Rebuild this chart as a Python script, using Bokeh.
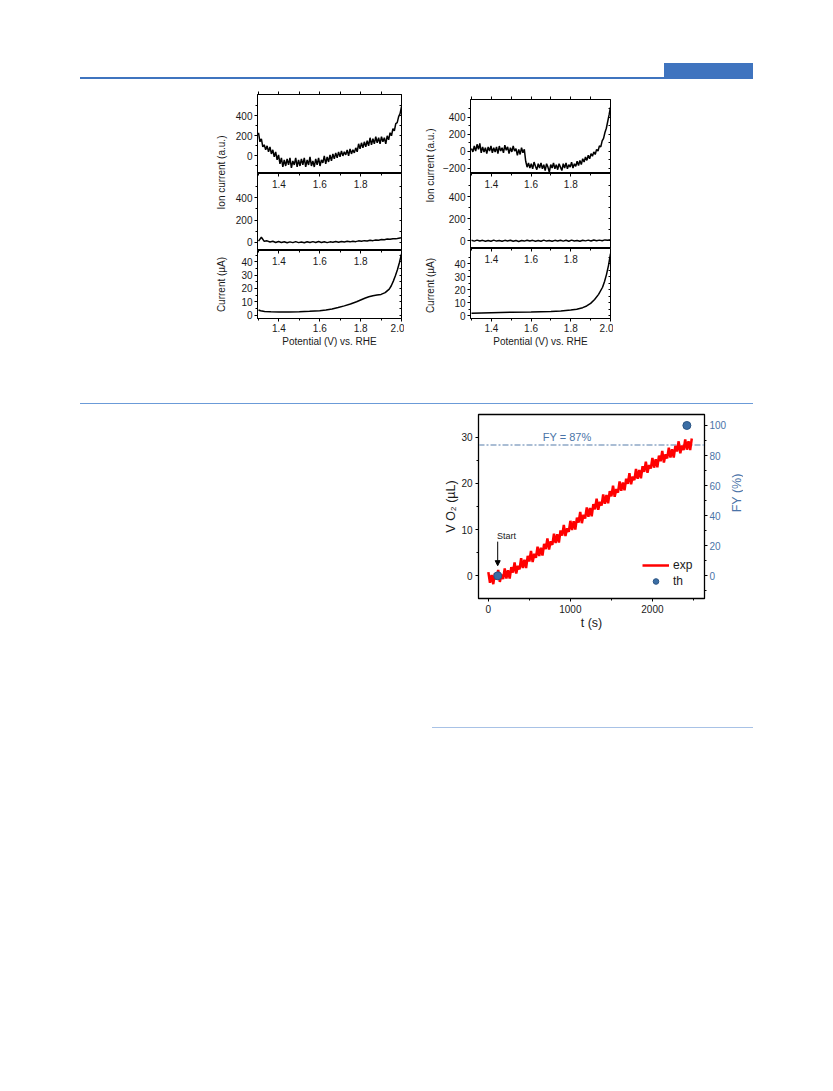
import numpy as np
from bokeh.plotting import figure
from bokeh.models import (Range1d, LinearAxis, FixedTicker, SingleIntervalTicker, Label, Span,
                          Arrow, NormalHead, Legend, LegendItem, Div, Spacer, PrintfTickFormatter)
from bokeh.layouts import column, row
from bokeh.embed import file_html
from bokeh.resources import INLINE

FONT = "Liberation Sans"

# ---------------- data ----------------
POT_RANGE = (1.295, 2.0)
pot_ticks = [1.4, 1.6, 1.8, 2.0]
pot_inner_ticks = [1.4, 1.6, 1.8]
pot_minor = [1.3, 1.5, 1.7, 1.9]

# left column (sample 1)
ion_top_left = [230, 140, 170, 90, 110, 60, 100, 40, 90, 20, 60, -10, 40, -40, 10, -80, -20, -110, -40, -100,
                -30, -90, -20, -120, -50, -90, -20, -110, -40, -100, -30, -90, -20, -110, -40, -90, -10, -100, -50, -110,
                -30, -90, -20, -100, -40, -70, 0, -80, -10, -60, 10, -50, 20, -30, 30, -20, 40, -10, 50, 0,
                40, 10, 60, 0, 70, 20, 60, 30, 80, 40, 120, 70, 130, 80, 140, 90, 150, 100, 180, 110,
                170, 120, 190, 130, 180, 120, 190, 140, 180, 120, 200, 160, 230, 200, 270, 250, 320, 330, 390, 420, 490]
ion_mid_left = [10, 45, 8, 12, 2, 8, -3, 6, -2, 4, -5, 3, -4, 5, -4, 2, -5, 4, -3, 5, -3, 6, -2, 4, -4, 3,
                0, 6, -1, 7, 2, 8, 3, 9, 5, 12, 8, 14, 11, 17, 14, 20, 18, 24, 22, 28, 26, 32, 30, 36, 40]
cur_left_x = [1.30, 1.31, 1.33, 1.36, 1.40, 1.45, 1.50, 1.55, 1.60, 1.63, 1.66, 1.69, 1.72, 1.75, 1.78,
              1.80, 1.82, 1.84, 1.86, 1.88, 1.90, 1.92, 1.94, 1.95, 1.96, 1.97, 1.98, 1.99, 2.00]
cur_left_y = [3.8, 3.2, 2.7, 2.4, 2.3, 2.3, 2.5, 2.8, 3.3, 3.8, 4.6, 5.6, 6.9, 8.3, 10.0,
              11.3, 12.6, 13.7, 14.5, 15.0, 15.5, 16.8, 19.5, 22.0, 25.5, 29.5, 34.0, 39.5, 46.0]

# right column (sample 2)
ion_top_right = [30, -10, 60, 0, 80, 20, 90, -20, 50, -10, 40, -30, 50, 0, 60, -20, 40, -10, 50, -30,
                 60, 0, 40, -20, 70, 10, 50, -30, 40, -10, 60, 0, 30, -50, 20, -40, 40, -20, 20, -120,
                 -190, -140, -200, -150, -210, -130, -180, -220, -150, -200, -140, -210, -160, -230, -150, -190, -250, -160, -200, -140,
                 -210, -160, -220, -150, -190, -230, -150, -200, -140, -210, -160, -190, -130, -200, -150, -180, -120, -170, -110, -160,
                 -90, -130, -70, -110, -50, -90, -30, -60, -10, -40, 20, 0, 60, 50, 120, 150, 220, 270, 350, 430, 520]
ion_mid_right = [5, -3, 6, -2, 4, -5, 3, -4, 6, -3, 2, -5, 4, -2, 5, -4, 3, -6, 2, -3, 5, -2, 4, -5, 3, -4,
                 6, -3, 2, -5, 4, -2, 5, -3, 4, -4, 6, -2, 3, -4, 5, -1, 6, -2, 7, 0, 6, 1, 8, 4, 10]
cur_right_x = [1.30, 1.35, 1.40, 1.50, 1.60, 1.70, 1.75, 1.80, 1.83, 1.86, 1.88, 1.90, 1.92, 1.94,
               1.96, 1.97, 1.98, 1.99, 2.00]
cur_right_y = [1.9, 2.1, 2.3, 2.6, 2.9, 3.3, 3.7, 4.3, 5.0, 6.2, 7.5, 9.5, 12.5, 16.5,
               22.0, 26.5, 32.0, 39.0, 48.0]

# O2 volume vs time
o2_t = list(range(0, 2500, 20))
o2_v = [0.8, -1.5, 0.2, -1.8, 0.6, -0.8, 1.3, -1.3, 0.3, -0.7,
        1.6, -0.6, 1.2, -0.6, 1.9, 0.7, 2.9, 0.5, 2.2, 1.4,
        3.8, 1.7, 3.5, 1.7, 4.3, 3.1, 5.4, 3.0, 4.8, 3.9,
        6.3, 4.3, 6.1, 4.4, 6.9, 5.8, 8.1, 5.7, 7.5, 6.7,
        9.1, 7.1, 9.0, 7.2, 9.8, 8.7, 11.0, 8.6, 10.3, 9.5,
        11.9, 9.9, 11.8, 10.0, 12.6, 11.5, 13.8, 11.4, 13.2, 12.4,
        14.8, 12.8, 14.7, 12.9, 15.5, 14.4, 16.7, 14.3, 16.0, 15.2,
        17.6, 15.6, 17.5, 15.7, 18.3, 17.2, 19.5, 17.1, 18.8, 18.0,
        20.4, 18.4, 20.2, 18.5, 21.0, 19.9, 22.2, 19.8, 21.5, 20.7,
        23.1, 21.0, 22.9, 21.1, 23.7, 22.5, 24.7, 22.3, 24.0, 23.2,
        25.5, 23.4, 25.2, 23.5, 26.0, 24.8, 27.0, 24.5, 26.3, 25.4,
        27.7, 25.6, 27.4, 25.6, 28.1, 26.9, 29.1, 26.5, 28.2, 27.2,
        29.5, 27.3, 29.1, 27.2, 29.7]
th_t = [115, 2420]
th_fy = [0, 100]
FY_LEVEL = 87
START_T = 114

TXT = "#1a1a1a"
BLUE_TXT = "#4a74a8"


def style_axis(ax, size="10px"):
    ax.major_label_text_font = FONT
    ax.major_label_text_font_size = size
    ax.major_label_text_color = TXT
    ax.axis_line_color = "black"
    ax.major_tick_line_color = "black"
    ax.minor_tick_line_color = "black"
    ax.axis_label_text_font = FONT
    ax.axis_label_text_font_style = "normal"
    ax.axis_label_text_color = TXT


def tick_only_axis(positions, tin, tout):
    # an axis that draws only tick marks (no labels): all marks as minor ticks
    ax = LinearAxis(ticker=FixedTicker(ticks=[], minor_ticks=positions))
    style_axis(ax)
    ax.major_tick_in = 0
    ax.major_tick_out = 0
    ax.minor_tick_in = tin
    ax.minor_tick_out = tout
    ax.major_label_standoff = 0
    return ax


RB = 3
x_shared = {}


def panel(key, yr, frame_h, frame_w, left_b, top_b, bottom_b, yticks, yminor, kind):
    if key not in x_shared:
        x_shared[key] = Range1d(*POT_RANGE)
    p = figure(width=left_b + frame_w + RB, height=top_b + frame_h + bottom_b,
               x_range=x_shared[key], y_range=Range1d(*yr),
               x_axis_location=None, y_axis_location=None,
               output_backend="svg", toolbar_location=None,
               min_border_left=left_b, min_border_right=RB,
               min_border_top=top_b, min_border_bottom=bottom_b)
    p.grid.visible = False
    p.outline_line_color = "black"
    p.outline_line_width = 1
    ya = LinearAxis(ticker=FixedTicker(ticks=yticks, minor_ticks=yminor))
    style_axis(ya)
    ya.major_tick_out = 3
    ya.major_tick_in = 0
    ya.minor_tick_out = 2
    ya.minor_tick_in = 0
    ya.major_label_standoff = 2
    p.add_layout(ya, "left")
    p.add_layout(tick_only_axis(sorted(yticks + yminor), 2, 0), "right")
    if kind == "top":
        p.add_layout(tick_only_axis(pot_inner_ticks + pot_minor, 0, 3), "above")
    else:
        ta = LinearAxis(ticker=FixedTicker(ticks=pot_inner_ticks, minor_ticks=pot_minor),
                        formatter=PrintfTickFormatter(format="%.1f"))
        style_axis(ta)
        ta.major_tick_out = 0
        ta.major_tick_in = 3
        ta.minor_tick_out = 0
        ta.minor_tick_in = 2
        ta.major_label_standoff = -14
        p.add_layout(ta, "above")
    if kind == "bottom":
        ba = LinearAxis(ticker=FixedTicker(ticks=pot_ticks, minor_ticks=pot_minor),
                        formatter=PrintfTickFormatter(format="%.1f"),
                        axis_label="Potential (V) vs. RHE")
        style_axis(ba)
        ba.major_tick_out = 3
        ba.major_tick_in = 0
        ba.minor_tick_out = 2
        ba.minor_tick_in = 0
        ba.major_label_standoff = 2
        ba.axis_label_standoff = 1
        ba.axis_label_text_font_size = "10px"
        p.add_layout(ba, "below")
    return p


def label_fig(w, h, labels, size="10px", color=TXT):
    p = figure(width=w, height=h, x_range=Range1d(0, 1), y_range=Range1d(h, 0),
               x_axis_location=None, y_axis_location=None,
               output_backend="svg", toolbar_location=None, min_border=0)
    p.outline_line_color = None
    p.grid.visible = False
    for t, y in labels:
        p.add_layout(Label(x=0.5, y=y, text=t, angle=np.pi / 2, text_align="center",
                           text_baseline="middle", text_font=FONT, text_font_size=size,
                           text_color=color))
    return p


def line(p, x, y):
    p.line(x, y, line_color="black", line_width=1.5)


# ---- left stack ----
topA = panel("A", (-175, 610), 79, 144, 27, 4, 0, [0, 200, 400], [-100, 100, 300, 500], "top")
line(topA, np.linspace(1.30, 2.00, len(ion_top_left)), ion_top_left)
midA = panel("A", (-75, 620), 77, 144, 27, 0, 0, [0, 200, 400], [100, 300, 500], "mid")
line(midA, np.linspace(1.30, 2.00, len(ion_mid_left)), ion_mid_left)
botA = panel("A", (-2.6, 48.5), 68, 144, 27, 0, 37, [0, 10, 20, 30, 40], [5, 15, 25, 35, 45], "bottom")
line(botA, cur_left_x, cur_left_y)
labA = label_fig(18, 265, [("Ion current (a.u.)", 82), ("Current (\u00b5A)", 194)])

# ---- right stack ----
topB = panel("B", (-265, 610), 74, 145, 26, 4, 0, [-200, 0, 200, 400], [-100, 100, 300, 500], "top")
line(topB, np.linspace(1.30, 2.00, len(ion_top_right)), ion_top_right)
midB = panel("B", (-70, 610), 75, 145, 26, 0, 0, [0, 200, 400], [100, 300, 500], "mid")
line(midB, np.linspace(1.30, 2.00, len(ion_mid_right)), ion_mid_right)
botB = panel("B", (-2.2, 52), 70, 145, 26, 0, 37, [0, 10, 20, 30, 40], [5, 15, 25, 35, 45], "bottom")
line(botB, cur_right_x, cur_right_y)
labB = label_fig(18, 260, [("Ion current (a.u.)", 70), ("Current (\u00b5A)", 190)])

# ---- O2 / FY figure ----
T_RANGE = (-120, 2635)
FY_RANGE = (-15.1, 107.3)
pC = figure(width=38 + 227 + 24, height=230, x_range=Range1d(*T_RANGE), y_range=Range1d(-4.9, 34.9),
            x_axis_location=None, y_axis_location=None,
            output_backend="svg", toolbar_location=None,
            min_border_left=38, min_border_right=24, min_border_top=6, min_border_bottom=40)
pC.grid.visible = False
pC.extra_y_ranges = {"fy": Range1d(*FY_RANGE)}
pC.outline_line_color = "black"
pC.outline_line_width = 1.3

axL = LinearAxis(ticker=SingleIntervalTicker(interval=10, num_minor_ticks=2), axis_label="V O\u2082 (\u00b5L)")
style_axis(axL, "10px")
axL.major_tick_out = 3
axL.major_tick_in = 0
axL.minor_tick_out = 2
axL.minor_tick_in = 0
axL.major_label_standoff = 3
axL.axis_label_standoff = 0
axL.axis_label_text_font_size = "12.5px"
pC.add_layout(axL, "left")

axB = LinearAxis(ticker=SingleIntervalTicker(interval=1000, num_minor_ticks=2), axis_label="t (s)")
style_axis(axB, "10px")
axB.major_tick_out = 3
axB.major_tick_in = 0
axB.minor_tick_out = 2
axB.minor_tick_in = 0
axB.major_label_standoff = 3
axB.axis_label_standoff = 0
axB.axis_label_text_font_size = "12.5px"
pC.add_layout(axB, "below")

axR = LinearAxis(y_range_name="fy", ticker=SingleIntervalTicker(interval=20, num_minor_ticks=2))
style_axis(axR, "10px")
axR.major_label_text_color = BLUE_TXT
axR.major_tick_out = 3
axR.major_tick_in = 0
axR.minor_tick_out = 2
axR.minor_tick_in = 0
axR.major_label_standoff = 2
pC.add_layout(axR, "right")

pC.add_layout(Span(location=FY_LEVEL, dimension="width", y_range_name="fy", line_color="#8ea8c6",
                   line_width=1.3, line_dash="6 2 2 2", level="underlay"))
r_exp = pC.line(o2_t, o2_v, line_color="#ff0000", line_width=2.5)
r_th = pC.scatter(th_t, th_fy, y_range_name="fy", size=8, fill_color="#3b6ea5", line_color="#2b5585")

pC.add_layout(Label(x=960, y=FY_LEVEL + 1.2, y_range_name="fy", text="FY = 87%", text_align="center",
                    text_baseline="bottom", text_font=FONT, text_font_size="11px", text_color=BLUE_TXT))
pC.add_layout(Label(x=START_T - 9, y=8.6, text="Start", text_align="left", text_baseline="middle",
                    text_font=FONT, text_font_size="9px", text_color=TXT))
pC.add_layout(Arrow(end=NormalHead(size=5, fill_color="black", line_color="black"),
                    x_start=START_T, y_start=7.4, x_end=START_T, y_end=2.2,
                    line_color="black", line_width=1))

leg = Legend(items=[LegendItem(label="exp", renderers=[r_exp]), LegendItem(label="th", renderers=[r_th])],
             location=(164, 10), padding=0, margin=0, spacing=2, glyph_height=14, glyph_width=27,
             label_standoff=4, label_height=14, label_text_font=FONT, label_text_font_size="12px",
             label_text_color=TXT, background_fill_alpha=0, border_line_color=None)
pC.add_layout(leg, "center")

# right-axis title (reads bottom-to-top), in its own narrow strip next to the plot
labC = label_fig(14, 230, [("FY (%)", 6 + 92)], size="12.5px", color=BLUE_TXT)

# ---- page decoration (page has no body margin) ----
header = Div(text=('<div style="position:relative;width:833px;height:80px;">'
                   '<div style="position:absolute;left:664px;top:63px;width:89px;height:15px;background:#3f74bf;"></div>'
                   '<div style="position:absolute;left:80px;top:77px;width:673px;height:2px;background:#3f74bf;"></div>'
                   '</div>'), width=833, height=80, margin=0)
div2 = Div(text=('<div style="position:relative;width:833px;height:53px;">'
                 '<div style="position:absolute;left:80px;top:48px;width:673px;height:1px;background:#6b9bd8;"></div>'
                 '</div>'), width=833, height=53, margin=0)
div3 = Div(text=('<div style="position:relative;width:833px;height:92px;">'
                 '<div style="position:absolute;left:432px;top:89px;width:321px;height:1px;background:#a8c2e6;"></div>'
                 '</div>'), width=833, height=92, margin=0)

colA = column(Spacer(width=174, height=10), topA, midA, botA, spacing=0)
labAc = column(Spacer(width=18, height=10), labA, spacing=0)
colB = column(Spacer(width=174, height=15), topB, midB, botB, spacing=0)
labBc = column(Spacer(width=18, height=15), labB, spacing=0)
row1 = row(Spacer(width=212, height=275), labAc, colA, Spacer(width=17, height=275), labBc, colB, spacing=0)
row3 = row(Spacer(width=440, height=230), pC, labC, spacing=0)
page = column(header, row1, div2, row3, div3, spacing=0)

open("out.html", "w").write(file_html(page, INLINE))
